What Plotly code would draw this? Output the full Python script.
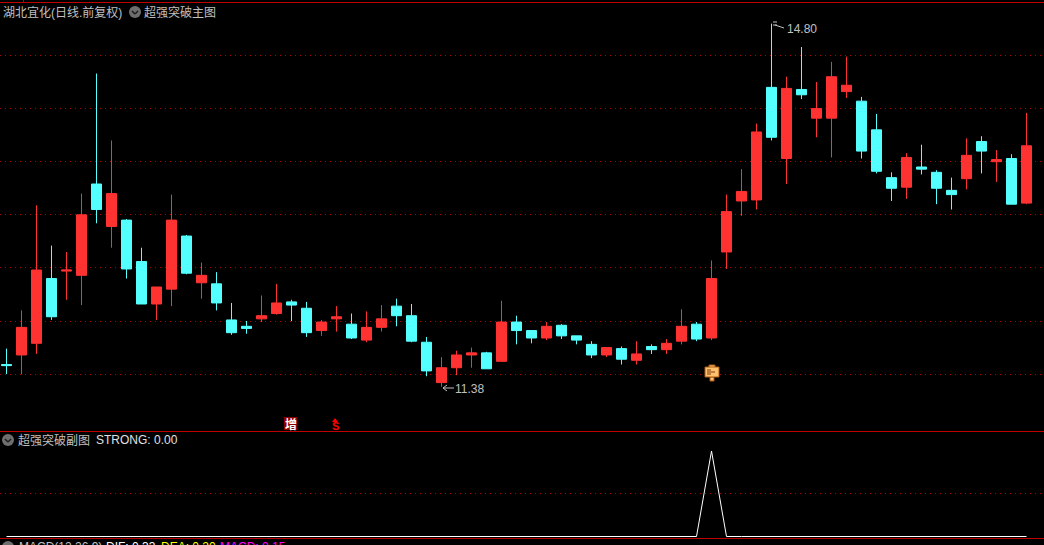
import plotly.graph_objects as go

W = 1044
H = 545

# daily candles, prices
opens = [11.59, 11.68, 11.79, 12.40, 12.47, 12.43, 13.29, 12.89, 12.95, 12.56, 12.16, 12.30, 12.80, 12.36, 12.35,
         12.01, 11.95, 12.02, 12.07, 12.18, 12.12, 11.91, 12.02, 11.97, 11.82, 11.94, 12.14, 12.05, 11.80, 11.42,
         11.56, 11.68, 11.70, 11.62, 11.99, 11.91, 11.84, 11.96, 11.86, 11.78, 11.68, 11.74, 11.63, 11.76, 11.73,
         11.81, 11.97, 11.84, 12.65, 13.13, 13.14, 14.20, 13.53, 14.18, 13.91, 13.91, 14.16, 14.07, 13.80, 13.35,
         13.26, 13.45, 13.40, 13.23, 13.34, 13.69, 13.50, 13.53, 13.11]
closes = [11.58, 11.94, 12.48, 12.04, 12.48, 13.00, 13.05, 13.20, 12.49, 12.16, 12.32, 12.95, 12.45, 12.43, 12.17,
          11.89, 11.93, 12.05, 12.17, 12.15, 11.89, 11.99, 12.04, 11.84, 11.94, 12.02, 12.05, 11.81, 11.53, 11.56,
          11.68, 11.70, 11.55, 11.99, 11.91, 11.84, 11.95, 11.86, 11.82, 11.68, 11.75, 11.64, 11.69, 11.73, 11.79,
          11.95, 11.83, 12.40, 13.03, 13.22, 13.78, 13.73, 14.19, 14.13, 14.00, 14.30, 14.22, 13.60, 13.41, 13.25,
          13.54, 13.43, 13.25, 13.19, 13.56, 13.60, 13.52, 13.10, 13.65]
highs = [11.74, 12.10, 13.09, 12.71, 12.65, 13.20, 14.33, 13.70, 12.96, 12.69, 12.32, 13.19, 12.81, 12.55, 12.46,
         12.17, 12.00, 12.24, 12.35, 12.20, 12.18, 12.01, 12.14, 12.07, 12.09, 12.15, 12.21, 12.16, 11.85, 11.66,
         11.72, 11.75, 11.71, 12.19, 12.05, 11.91, 11.99, 11.97, 11.86, 11.81, 11.75, 11.76, 11.81, 11.78, 11.83,
         12.11, 11.99, 12.57, 13.19, 13.43, 13.86, 14.80, 14.30, 14.58, 14.25, 14.44, 14.49, 14.11, 13.95, 13.40,
         13.58, 13.66, 13.42, 13.35, 13.72, 13.74, 13.61, 13.57, 13.96]
lows = [11.50, 11.50, 11.69, 12.01, 12.20, 12.15, 12.92, 12.69, 12.40, 12.16, 12.01, 12.14, 12.44, 12.21, 12.10,
        11.87, 11.88, 11.99, 12.06, 12.00, 11.85, 11.86, 11.90, 11.83, 11.80, 11.90, 11.95, 11.80, 11.48, 11.38,
        11.49, 11.56, 11.55, 11.62, 11.78, 11.79, 11.82, 11.83, 11.78, 11.65, 11.66, 11.59, 11.59, 11.69, 11.69,
        11.78, 11.81, 11.82, 12.49, 12.99, 13.05, 13.70, 13.29, 14.09, 13.73, 13.54, 14.10, 13.53, 13.39, 13.13,
        13.15, 13.38, 13.10, 13.05, 13.24, 13.39, 13.31, 13.10, 13.10]
strong = [0] * 47 + [1] + [0] * 21
days = list(range(len(opens)))

price_ticks = [11.5, 12.0, 12.5, 13.0, 13.5, 14.0, 14.5]
strong_ticks = [0.5]

RED = "#FF3232"
CYAN = "#54FFFF"
GRID = "#B00000"
FRAME = "#C00000"
TEXT = "#C0C0C0"
FONT = "Liberation Sans, Noto Sans CJK SC"


def px(x):
    return x / W


def py(y):
    return 1 - y / H


def label(x, y, text, color=TEXT, size=12, anchor="left"):
    return dict(x=px(x), y=py(y), xref="paper", yref="paper", text=text, showarrow=False, xanchor=anchor,
                yanchor="middle", borderpad=0, font=dict(family=FONT, size=size, color=color))


def line(x0, y0, x1, y1, color, width=1):
    return dict(type="line", xref="paper", yref="paper", x0=px(x0), y0=py(y0), x1=px(x1), y1=py(y1),
                line=dict(color=color, width=width))


def box(x0, y0, x1, y1, fill, edge=None):
    return dict(type="rect", xref="paper", yref="paper", x0=px(x0), y0=py(y0), x1=px(x1), y1=py(y1),
                fillcolor=fill, line=dict(color=edge or fill, width=1 if edge else 0))


def chevron(cx, cy):
    return [
        dict(type="circle", xref="paper", yref="paper", x0=px(cx - 6), y0=py(cy - 6), x1=px(cx + 6), y1=py(cy + 6),
             fillcolor="#6E6E6E", line=dict(width=0)),
        line(cx - 3, cy - 1, cx, cy + 2, "#1C1C1C", 1.5),
        line(cx, cy + 2, cx + 3, cy - 1, "#1C1C1C", 1.5),
    ]


fig = go.Figure()
fig.add_trace(go.Candlestick(x=days, open=opens, high=highs, low=lows, close=closes, xaxis="x", yaxis="y",
                             increasing=dict(line=dict(color=RED, width=1), fillcolor=RED),
                             decreasing=dict(line=dict(color=CYAN, width=1), fillcolor=CYAN)))
fig.add_trace(go.Scatter(x=days, y=strong, mode="lines", xaxis="x2", yaxis="y2", line=dict(color="#FFFFFF", width=1)))

shapes = [
    line(0, 2.5, W, 2.5, FRAME),
    line(23.5, 0, 23.5, 2, FRAME),
    line(0, 431.5, W, 431.5, FRAME),
    line(0, 538.5, W, 538.5, FRAME),
    # high / low pointers
    line(773, 22, 777, 22, TEXT),
    line(773, 25, 777, 25, TEXT),
    line(775, 25, 784, 28, TEXT),
    line(443, 388, 454, 388, TEXT),
    line(443, 388, 447, 385, TEXT),
    line(443, 388, 447, 391, TEXT),
    # markers under the candles
    box(284, 417, 297, 430, "#8B0000"),
    dict(type="path", xref="paper", yref="paper", fillcolor="#FF0000", line=dict(width=0),
         path=f"M {px(332)} {py(422)} L {px(338)} {py(422)} L {px(335)} {py(418)} Z"),
    # hand icon
    box(709, 365, 715, 368, "#FFC070", "#A85A10"),
    box(710, 377, 714, 381, "#FFC070", "#A85A10"),
    box(705, 367, 719, 377, "#FFC070", "#A85A10"),
    line(707, 370, 711, 370, "#7A4008"),
    line(707, 372, 715, 372, "#7A4008"),
    line(707, 374, 711, 374, "#7A4008"),
]
shapes += chevron(135, 12) + chevron(8, 440) + chevron(8, 547)

annotations = [
    label(2, 12, "湖北宜化(日线.前复权)"),
    label(143, 12, "超强突破主图"),
    label(17, 440, "超强突破副图"),
    label(95, 440, "STRONG: 0.00", "#E0E0E0"),
    label(18, 547, "MACD(12,26,9)"),
    label(105, 547, "DIF: 0.33", "#FFFFFF"),
    label(160, 547, "DEA: 0.20", "#FFFF00"),
    label(219, 547, "MACD: 0.15", "#FF00FF"),
    label(786, 29, "14.80"),
    label(454, 389, "11.38"),
    label(290.5, 424, "<b>增</b>", "#FFFFFF", 12, "center"),
    label(335, 426, "<b>S</b>", "#FF0000", 11, "center"),
]

x_range = [-6.5 / 15, (W - 6.5) / 15]
fig.update_layout(
    width=W, height=H, margin=dict(l=0, r=0, t=0, b=0), paper_bgcolor="#000000", plot_bgcolor="#000000",
    showlegend=False, shapes=shapes, annotations=annotations, boxgap=0.2, boxgroupgap=0.167,
    xaxis=dict(domain=[0, 1], range=x_range, visible=False, rangeslider=dict(visible=False), anchor="y"),
    xaxis2=dict(domain=[0, 1], range=x_range, visible=False, anchor="y2"),
    yaxis=dict(domain=[py(431), 1], range=[10.9642, 15.0226], tickvals=price_ticks, showticklabels=False,
               showgrid=True, gridcolor=GRID, griddash="1px,4px", gridwidth=1, zeroline=False, showline=False,
               ticks="", anchor="x"),
    yaxis2=dict(domain=[py(538), py(432)], range=[-0.0175, 1.222], tickvals=strong_ticks, showticklabels=False,
                showgrid=True, gridcolor=GRID, griddash="1px,4px", gridwidth=1, zeroline=False, showline=False,
                ticks="", anchor="x2"),
)

fig.write_html("out.html", config=dict(displayModeBar=False),
               post_script="document.body.style.margin='0';document.body.style.overflow='hidden';")
